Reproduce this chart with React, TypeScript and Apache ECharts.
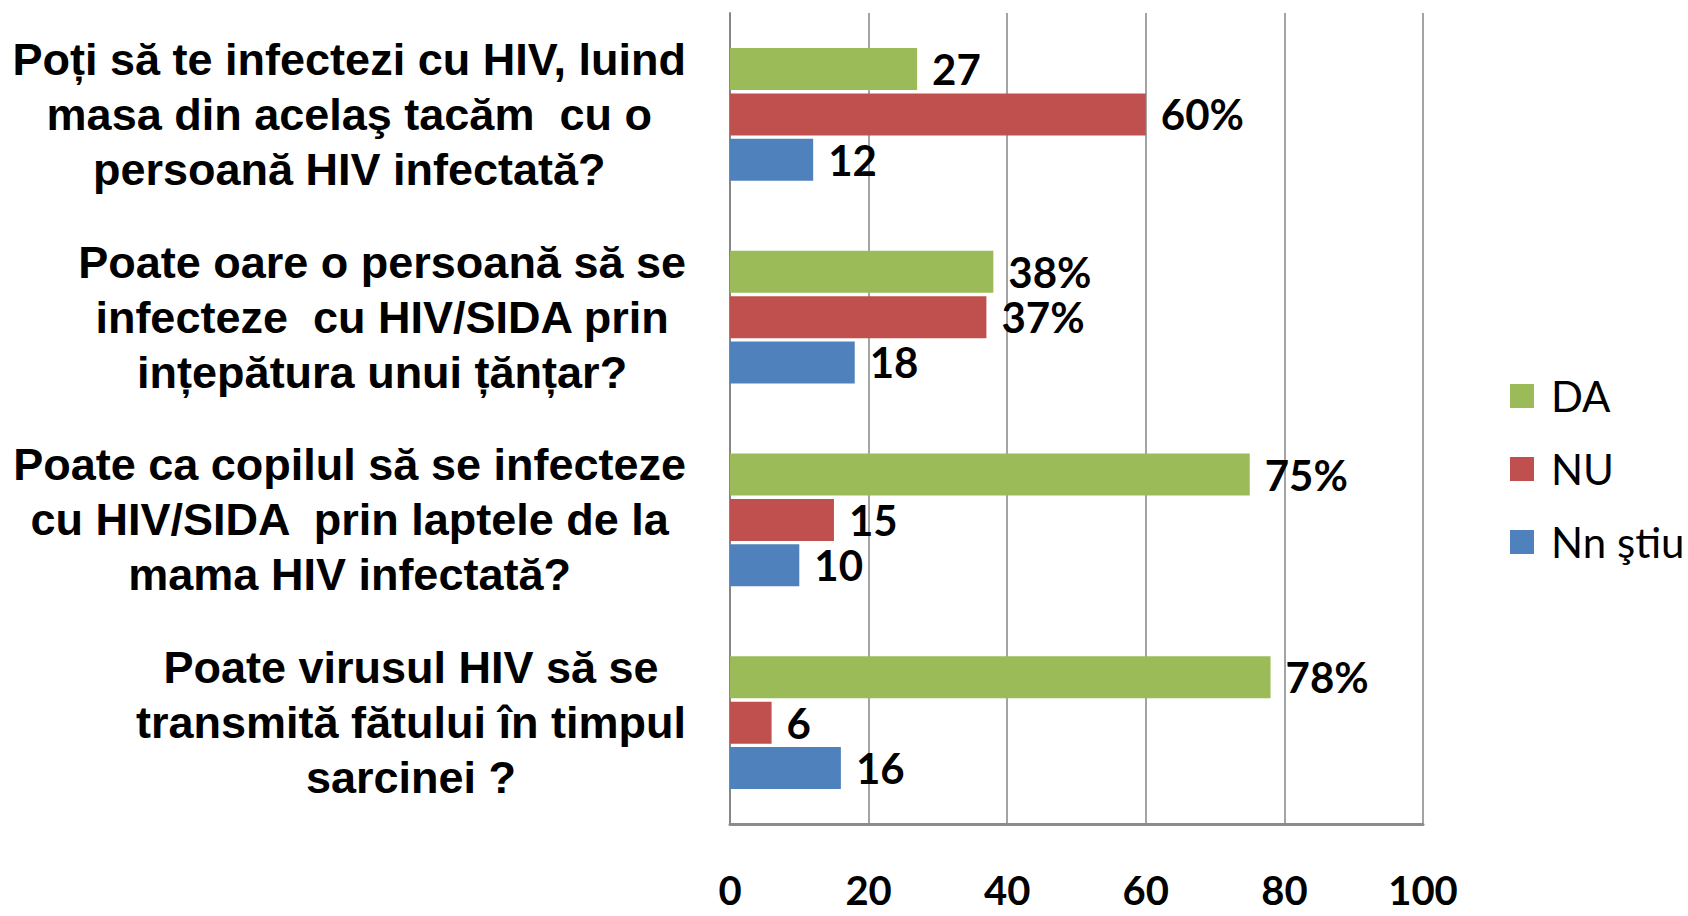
import React, { useEffect, useRef } from "react";
import * as echarts from "echarts";

const categories = [
  ["Poți să te infectezi cu HIV, luind", "masa din acelaş tacăm  cu o", "persoană HIV infectată?"],
  ["Poate oare o persoană să se", "infecteze  cu HIV/SIDA prin", "ințepătura unui țănțar?"],
  ["Poate ca copilul să se infecteze", "cu HIV/SIDA  prin laptele de la", "mama HIV infectată?"],
  ["Poate virusul HIV să se", "transmită fătului în timpul", "sarcinei ?"],
];
const seriesNames = ["DA", "NU", "Nn ştiu"];
const daValues = [27, 38, 75, 78];
const nuValues = [60, 37, 15, 6];
const nsValues = [12, 18, 10, 16];
const daLabels = ["27", "38%", "75%", "78%"];
const nuLabels = ["60%", "37%", "15", "6"];
const nsLabels = ["12", "18", "10", "16"];
const xTicks = [0, 20, 40, 60, 80, 100];
const colors = ["#9BBB59", "#C0504D", "#4F81BD"];

export default function App() {
  const ref = useRef<HTMLDivElement>(null);
  useEffect(() => {
    if (!ref.current) return;
    const chart = echarts.init(ref.current, null, { renderer: "svg" });
    const catKeys = categories.map((c) => c.join("\n"));
    const numFont = "Lato, 'Open Sans', sans-serif";
    const mkSeries = (i: number, values: number[], labels: string[]) => ({
      name: seriesNames[i],
      type: "bar",
      data: values,
      barWidth: 42,
      barGap: "8%",
      itemStyle: { color: colors[i] },
      label: {
        show: true,
        position: "right",
        distance: 15,
        color: "#000",
        fontFamily: numFont,
        fontWeight: "bold",
        fontSize: 42,
        formatter: (p: any) => labels[p.dataIndex],
      },
    });
    chart.setOption({
      animation: false,
      backgroundColor: "#fff",
      grid: { left: 730, right: 265, top: 13, bottom: 92, containLabel: false },
      legend: {
        orient: "vertical",
        left: 1505,
        top: 370,
        itemWidth: 24,
        itemHeight: 24,
        itemGap: 31,
        icon: "rect",
        data: seriesNames,
        textStyle: {
          fontFamily: numFont,
          fontSize: 42,
          color: "#000",
          padding: [0, 0, 0, 12],
        },
      },
      xAxis: {
        type: "value",
        min: xTicks[0],
        max: xTicks[xTicks.length - 1],
        interval: 20,
        axisLine: { show: true, lineStyle: { color: "#8C8C8C", width: 3 } },
        axisTick: { show: false },
        splitLine: { show: true, lineStyle: { color: "#868686", width: 1.5 } },
        axisLabel: {
          margin: 46,
          color: "#000",
          fontFamily: numFont,
          fontWeight: "bold",
          fontSize: 40,
        },
      },
      yAxis: {
        type: "category",
        inverse: true,
        data: catKeys,
        axisLine: { show: true, lineStyle: { color: "#868686", width: 2 } },
        axisTick: { show: false },
        axisLabel: {
          margin: 44,
          color: "#000",
          formatter: (v: string) => v.split("\n").map((l) => `{c|${l}}`).join("\n"),
          rich: {
            c: {
              align: "center",
              fontFamily: "'Liberation Sans', Arial, sans-serif",
              fontWeight: "bold",
              fontSize: 45,
              lineHeight: 55,
              color: "#000",
            },
          },
        },
      },
      series: [
        mkSeries(0, daValues, daLabels),
        mkSeries(1, nuValues, nuLabels),
        mkSeries(2, nsValues, nsLabels),
      ],
    });
    return () => chart.dispose();
  }, []);
  return (
    <div
      ref={ref}
      style={{ position: "absolute", left: 0, top: 0, width: 1688, height: 916 }}
    />
  );
}
